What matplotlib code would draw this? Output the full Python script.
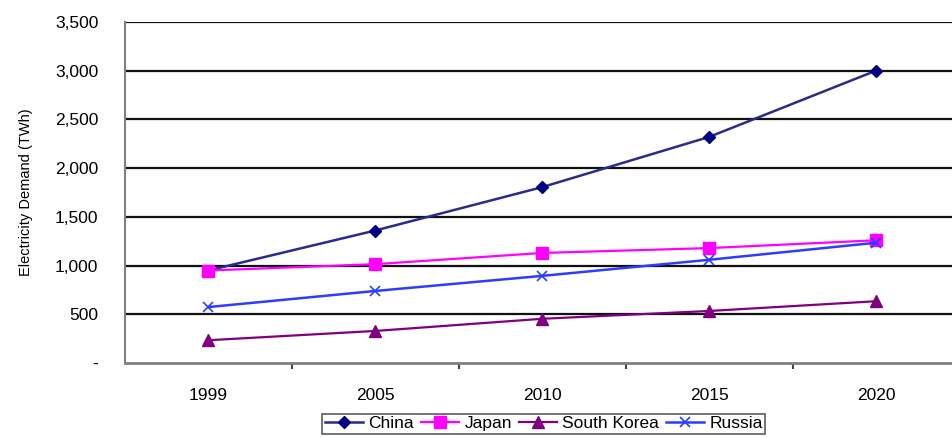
import matplotlib.pyplot as plt
from matplotlib.ticker import FixedLocator

plt.rcParams['font.family'] = ['Liberation Sans', 'DejaVu Sans']

years = ['1999', '2005', '2010', '2015', '2020']
china = [950, 1360, 1805, 2320, 3000]
japan = [950, 1015, 1130, 1180, 1260]
south_korea = [235, 330, 455, 535, 635]
russia = [575, 740, 895, 1060, 1235]

y_ticks = [0, 500, 1000, 1500, 2000, 2500, 3000, 3500]
y_labels = ['-', '500', '1,000', '1,500', '2,000', '2,500', '3,000', '3,500']

fig = plt.figure(figsize=(9.52, 4.37), dpi=100)
ax = fig.add_axes([0.131, 0.169, 0.877, 0.781])

x = range(len(years))
ax.plot(x, china, color='#2b2b8c', lw=1.8, marker='D', ms=6, mfc='#000080', mec='#000080', label='China')
ax.plot(x, japan, color='#ff00ff', lw=1.6, marker='s', ms=8, mfc='#ff00ff', mec='#ff00ff', label='Japan')
ax.plot(x, south_korea, color='#800080', lw=1.6, marker='^', ms=9, mfc='#800080', mec='#800080', label='South Korea')
ax.plot(x, russia, color='#2e3cff', lw=1.8, marker='x', ms=7, mew=1.2, label='Russia')

ax.set_xlim(-0.5, 4.5)
ax.set_ylim(0, 3500)
ax.set_yticks(y_ticks)
ax.set_yticklabels(y_labels)
ax.set_xticks(list(x))
ax.set_xticklabels(years)
ax.xaxis.set_minor_locator(FixedLocator([0.5, 1.5, 2.5, 3.5]))
ax.tick_params(axis='x', which='major', length=0, labelsize=12.5, pad=18)
ax.tick_params(axis='x', which='minor', length=4, width=1.5, color='#444444', direction='out')
ax.tick_params(axis='y', length=0, labelsize=12.5, pad=19)

for v in y_ticks[1:]:
    ax.axhline(v, color='#111111', lw=1.6, zorder=0)

ax.spines['left'].set_color('#808080')
ax.spines['left'].set_linewidth(1.5)
ax.spines['bottom'].set_color('#808080')
ax.spines['bottom'].set_linewidth(2)
ax.spines['top'].set_visible(False)
ax.spines['right'].set_visible(False)

ax.set_ylabel('Electricity Demand (TWh)', fontsize=10.5, labelpad=16)

leg = ax.legend(loc='upper center', bbox_to_anchor=(0.502, -0.148), ncol=4, fontsize=12.5,
                frameon=True, fancybox=False, edgecolor='#333333', borderpad=0.15,
                columnspacing=0.4, handlelength=2.2, handletextpad=0.3, borderaxespad=0)
leg.get_frame().set_linewidth(1.2)

fig.savefig('out.png', dpi=100)
